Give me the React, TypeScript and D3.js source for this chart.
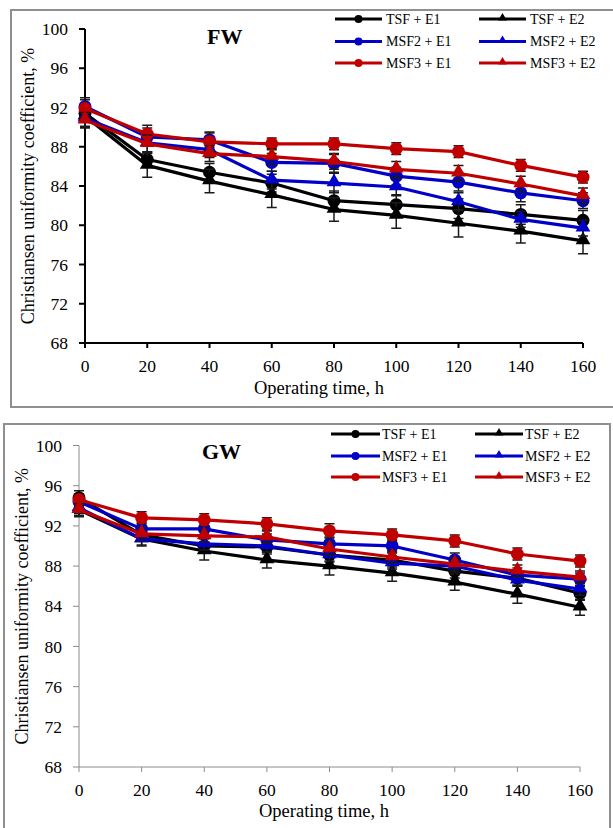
import React, { useEffect, useRef } from "react";
import * as d3 from "d3";

// operating time (h)
const hours = [0, 20, 40, 60, 80, 100, 120, 140, 160];
const yTicks = [68, 72, 76, 80, 84, 88, 92, 96, 100];
const seriesNames = ["TSF + E1", "TSF + E2", "MSF2 + E1", "MSF2 + E2", "MSF3 + E1", "MSF3 + E2"];
const seriesColors = ["#000000", "#000000", "#0000c8", "#0000c8", "#c00000", "#c00000"];
const seriesShapes = ["circle", "triangle", "circle", "triangle", "circle", "triangle"];

// FW panel
const tsfE1FW = [91.4, 86.7, 85.4, 84.3, 82.5, 82.1, 81.7, 81.1, 80.5];
const tsfE2FW = [91.1, 86.1, 84.5, 83.1, 81.6, 81.0, 80.2, 79.4, 78.4];
const msf2E1FW = [92.1, 89.0, 88.7, 86.4, 86.3, 85.0, 84.4, 83.3, 82.5];
const msf2E2FW = [90.9, 88.4, 87.7, 84.6, 84.3, 83.9, 82.4, 80.6, 79.7];
const msf3E1FW = [91.9, 89.3, 88.5, 88.3, 88.3, 87.8, 87.5, 86.1, 84.9];
const msf3E2FW = [90.7, 88.3, 87.3, 87.0, 86.5, 85.7, 85.3, 84.2, 83.0];
const tsfE1FWErr = [0.9, 0.8, 0.9, 0.9, 1.0, 1.0, 1.0, 1.0, 1.0];
const tsfE2FWErr = [1.0, 1.2, 1.2, 1.3, 1.2, 1.3, 1.4, 1.2, 1.3];
const msf2E1FWErr = [0.9, 0.9, 0.8, 0.9, 0.9, 0.9, 0.9, 0.9, 0.8];
const msf2E2FWErr = [0.9, 0.9, 0.8, 0.9, 1.0, 0.9, 0.9, 0.8, 0.8];
const msf3E1FWErr = [0.9, 0.9, 0.9, 0.6, 0.6, 0.6, 0.6, 0.6, 0.6];
const msf3E2FWErr = [0.8, 0.9, 0.8, 0.8, 0.8, 0.8, 0.8, 0.8, 0.8];

// GW panel
const tsfE1GW = [94.8, 91.1, 90.0, 89.9, 89.1, 88.6, 87.5, 86.8, 85.3];
const tsfE2GW = [93.6, 90.7, 89.5, 88.6, 88.0, 87.3, 86.4, 85.2, 83.9];
const msf2E1GW = [94.4, 91.7, 91.7, 90.6, 90.2, 90.0, 88.6, 87.1, 86.7];
const msf2E2GW = [93.8, 90.7, 90.2, 90.0, 89.1, 88.3, 88.0, 86.6, 85.7];
const msf3E1GW = [94.6, 92.8, 92.6, 92.2, 91.5, 91.1, 90.5, 89.2, 88.5];
const msf3E2GW = [93.6, 91.2, 91.0, 90.9, 89.7, 88.9, 88.2, 87.5, 86.9];
const tsfE1GWErr = [0.7, 0.6, 0.7, 0.7, 0.7, 0.7, 0.7, 0.7, 0.7];
const tsfE2GWErr = [0.7, 0.7, 0.9, 0.8, 0.9, 0.8, 0.8, 0.9, 0.8];
const msf2E1GWErr = [0.6, 0.6, 0.6, 0.6, 0.7, 0.6, 0.7, 0.7, 0.6];
const msf2E2GWErr = [0.6, 0.6, 0.6, 0.6, 0.6, 0.6, 0.6, 0.6, 0.6];
const msf3E1GWErr = [0.6, 0.6, 0.6, 0.6, 0.7, 0.6, 0.6, 0.6, 0.6];
const msf3E2GWErr = [0.6, 0.6, 0.6, 0.6, 0.6, 0.6, 0.6, 0.6, 0.6];

const FONT = '"Liberation Serif", "Times New Roman", "DejaVu Serif", serif';

type PanelCfg = {
  label: string;
  values: number[][];
  errors: number[][];
  frame: [number, number, number, number];
  x0: number; x1: number; yTop: number; yBottom: number;
  axisColor: string; axisWidth: number;
  yLabelRight: number; xLabelBase: number; xTitleX: number; xTitleY: number; yTitleX: number;
  labelX: number; labelY: number;
  legendRows: number[]; legendCols: [number, number, number][];
};

const panels: PanelCfg[] = [
  {
    label: "FW",
    values: [tsfE1FW, tsfE2FW, msf2E1FW, msf2E2FW, msf3E1FW, msf3E2FW],
    errors: [tsfE1FWErr, tsfE2FWErr, msf2E1FWErr, msf2E2FWErr, msf3E1FWErr, msf3E2FWErr],
    frame: [11, 10, 614, 407],
    x0: 85, x1: 583, yTop: 29, yBottom: 343,
    axisColor: "#000", axisWidth: 2,
    yLabelRight: 68, xLabelBase: 372, xTitleX: 319, xTitleY: 394, yTitleX: 34,
    labelX: 207, labelY: 44,
    legendRows: [19, 41.5, 63],
    legendCols: [[335, 382, 386], [479, 526, 530]],
  },
  {
    label: "GW",
    values: [tsfE1GW, tsfE2GW, msf2E1GW, msf2E2GW, msf3E1GW, msf3E2GW],
    errors: [tsfE1GWErr, tsfE2GWErr, msf2E1GWErr, msf2E2GWErr, msf3E1GWErr, msf3E2GWErr],
    frame: [4, 424, 610, 840],
    x0: 79, x1: 580, yTop: 445.5, yBottom: 767,
    axisColor: "#8c8c8c", axisWidth: 1,
    yLabelRight: 62, xLabelBase: 796, xTitleX: 324, xTitleY: 817, yTitleX: 28,
    labelX: 202, labelY: 459,
    legendRows: [434, 456, 477],
    legendCols: [[331, 380, 382], [475, 523, 525]],
  },
];

function drawPanel(g: d3.Selection<SVGGElement, unknown, null, undefined>, p: PanelCfg) {
  const x = d3.scaleLinear().domain([0, 160]).range([p.x0, p.x1]);
  const y = d3.scaleLinear().domain([68, 100]).range([p.yBottom, p.yTop]);

  const [fx0, fy0, fx1, fy1] = p.frame;
  g.append("rect").attr("x", fx0).attr("y", fy0).attr("width", fx1 - fx0).attr("height", fy1 - fy0)
    .attr("fill", "#fff").attr("stroke", "#8f8f8f").attr("stroke-width", 2);

  // axes
  g.append("line").attr("x1", x(0)).attr("x2", x(0)).attr("y1", y(100)).attr("y2", y(68))
    .attr("stroke", p.axisColor).attr("stroke-width", p.axisWidth);
  g.append("line").attr("x1", x(0)).attr("x2", x(160)).attr("y1", y(68)).attr("y2", y(68))
    .attr("stroke", p.axisColor).attr("stroke-width", p.axisWidth);

  g.selectAll(".yt").data(yTicks).enter().append("line")
    .attr("x1", x(0) - 6).attr("x2", x(0)).attr("y1", d => y(d)).attr("y2", d => y(d))
    .attr("stroke", p.axisColor).attr("stroke-width", p.axisWidth);
  g.selectAll(".xt").data(hours).enter().append("line")
    .attr("x1", d => x(d)).attr("x2", d => x(d)).attr("y1", y(68)).attr("y2", y(68) + 5)
    .attr("stroke", p.axisColor).attr("stroke-width", p.axisWidth);

  g.selectAll(".yl").data(yTicks).enter().append("text")
    .attr("x", p.yLabelRight).attr("y", d => y(d)).attr("dy", "0.35em")
    .attr("text-anchor", "end").style("font-size", "17.5px").text(d => d);
  g.selectAll(".xl").data(hours).enter().append("text")
    .attr("x", d => x(d)).attr("y", p.xLabelBase)
    .attr("text-anchor", "middle").style("font-size", "17.5px").text(d => d);

  g.append("text").attr("x", p.xTitleX).attr("y", p.xTitleY).attr("text-anchor", "middle")
    .style("font-size", "18.5px").text("Operating time, h");
  g.append("text")
    .attr("transform", `translate(${p.yTitleX},${(y(68) + y(100)) / 2}) rotate(-90)`)
    .attr("text-anchor", "middle").style("font-size", "18px")
    .text("Christiansen uniformity coefficient, %");

  g.append("text").attr("x", p.labelX).attr("y", p.labelY).style("font-size", "22px")
    .style("font-weight", "bold").text(p.label);

  const line = d3.line<number>().x((d, i) => x(hours[i])).y(d => y(d));
  const tri = d3.symbol().type(d3.symbolTriangle).size(95)();
  const triSmall = d3.symbol().type(d3.symbolTriangle).size(34)();

  p.values.forEach((vals, s) => {
    const color = seriesColors[s];
    const sg = g.append("g");
    sg.selectAll(".eb").data(vals).enter().append("path")
      .attr("d", (d, i) => {
        const cx = x(hours[i]);
        const lo = y(d - p.errors[s][i]);
        const hi = y(d + p.errors[s][i]);
        return `M${cx},${lo}V${hi}M${cx - 5},${lo}H${cx + 5}M${cx - 5},${hi}H${cx + 5}`;
      })
      .attr("stroke", "#1a1a1a").attr("stroke-width", 1.5).attr("fill", "none");
    sg.append("path").datum(vals).attr("d", line).attr("fill", "none")
      .attr("stroke", color).attr("stroke-width", 3.2).attr("stroke-linejoin", "round");
    if (seriesShapes[s] === "circle") {
      sg.selectAll(".m").data(vals).enter().append("circle")
        .attr("cx", (d, i) => x(hours[i])).attr("cy", d => y(d)).attr("r", 6.5).attr("fill", color);
    } else {
      sg.selectAll(".m").data(vals).enter().append("path").attr("d", tri)
        .attr("transform", (d, i) => `translate(${x(hours[i])},${y(d) - 1})`).attr("fill", color);
    }
  });

  // legend
  seriesNames.forEach((name, s) => {
    const col = p.legendCols[s % 2];
    const ly = p.legendRows[Math.floor(s / 2)];
    const color = seriesColors[s];
    g.append("line").attr("x1", col[0]).attr("x2", col[1]).attr("y1", ly).attr("y2", ly)
      .attr("stroke", color).attr("stroke-width", 3);
    const mx = (col[0] + col[1]) / 2;
    if (seriesShapes[s] === "circle") {
      g.append("circle").attr("cx", mx).attr("cy", ly).attr("r", 4).attr("fill", color);
    } else {
      g.append("path").attr("d", triSmall).attr("transform", `translate(${mx},${ly - 1})`).attr("fill", color);
    }
    g.append("text").attr("x", col[2]).attr("y", ly).attr("dy", "0.35em")
      .style("font-size", "14px").text(name);
  });
}

export default function App() {
  const ref = useRef<SVGSVGElement | null>(null);

  useEffect(() => {
    const svg = d3.select(ref.current);
    svg.selectAll("*").remove();
    panels.forEach(p => drawPanel(svg.append("g") as any, p));
  }, []);

  return (
    <div style={{ position: "absolute", left: 0, top: 0 }}>
      <svg ref={ref} width={613} height={828}
        style={{ display: "block", background: "#fff", fontFamily: FONT }} />
    </div>
  );
}
